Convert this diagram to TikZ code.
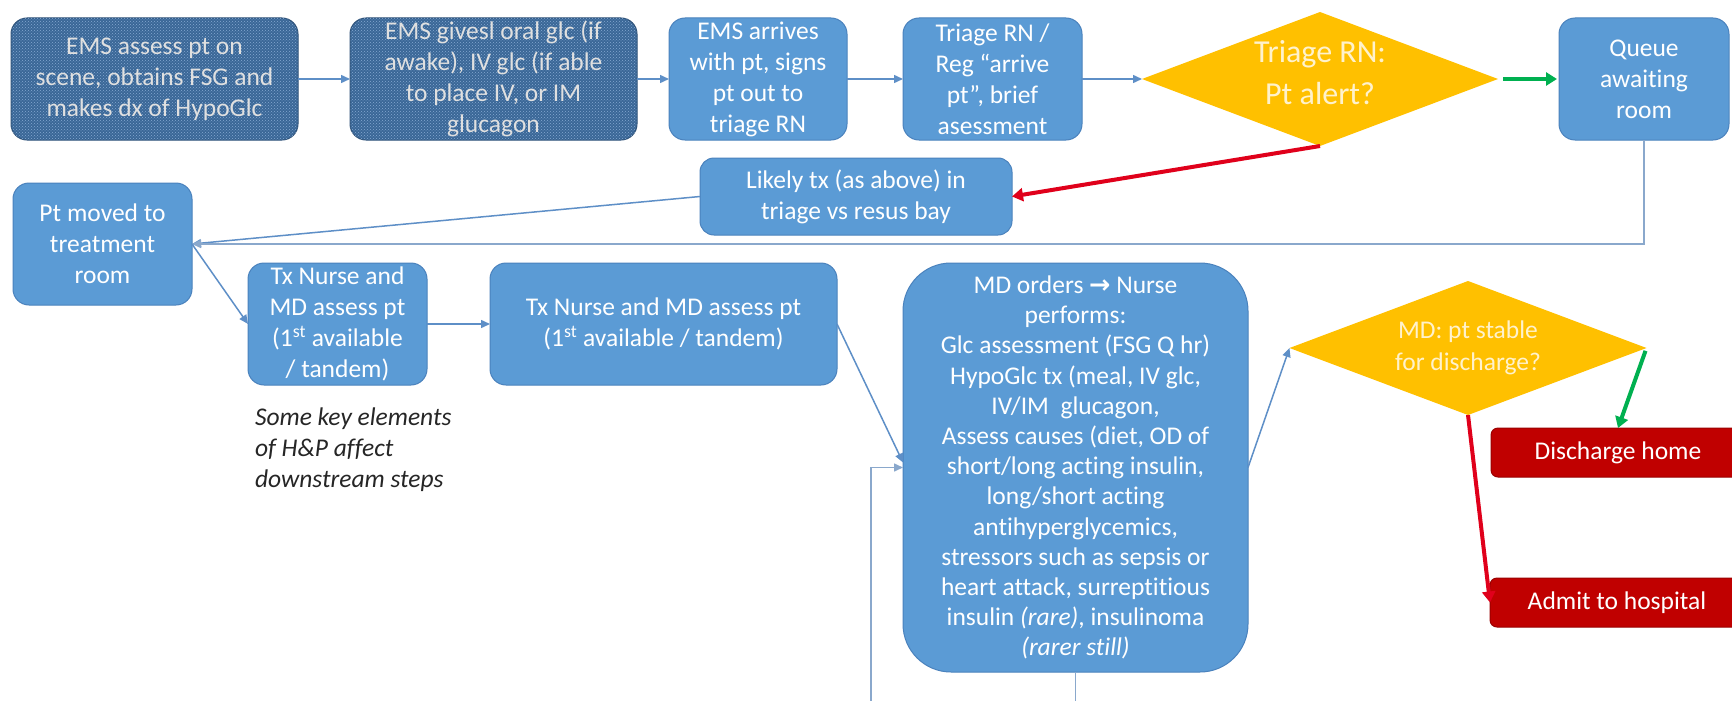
\documentclass[tikz,border=0pt]{standalone}
\usepackage{fontspec}
\setmainfont{Carlito}[Ligatures=CommonOff]
\newfontfamily\symfont{DejaVu Sans}
\usetikzlibrary{shapes.geometric, arrows.meta, patterns, calc}
\definecolor{boxblue}{HTML}{5B9BD5}
\definecolor{boxedge}{HTML}{4A82BD}
\definecolor{darkbase}{HTML}{3A6797}
\definecolor{darkdot}{HTML}{86A9D2}
\definecolor{gold}{HTML}{FFC000}
\definecolor{goldtext}{HTML}{FFF2CC}
\definecolor{boxred}{HTML}{C00000}
\definecolor{lineblue}{HTML}{5E8FC7}
\definecolor{linepale}{HTML}{8AA8CC}
\definecolor{arrgreen}{HTML}{00B050}
\definecolor{arrred}{HTML}{E0001B}
\definecolor{notegray}{HTML}{262626}
\begin{document}
\begin{tikzpicture}[x=1pt, y=-1pt,
  every node/.style={inner sep=0pt, outer sep=0pt},
  txt/.style={font=\fontsize{25.5}{31}\selectfont},
  bluebox/.style={txt, draw=boxedge, line width=1pt, fill=boxblue, rounded corners=16pt, text=white, align=center},
  darkbox/.style={bluebox, fill=darkbase, draw=darkbase!80!black, postaction={pattern=crosshatch dots, pattern color=darkdot}, text=black!12},
  redbox/.style={bluebox, fill=boxred, draw=boxred!80!black, rounded corners=7pt},
  dia/.style={diamond, fill=gold, aspect=2.66},
  diatext/.style={text=goldtext, align=center},
  conn/.style={draw=lineblue, line width=1.5pt, -{Triangle[length=9pt,width=8pt]}},
  connpale/.style={draw=linepale, line width=1.5pt, -{Triangle[length=9pt,width=8pt]}},
  connline/.style={draw=linepale, line width=1.5pt},
  yesarrow/.style={draw=arrgreen, line width=4pt, -{Triangle[length=11pt,width=13pt]}},
  noarrow/.style={draw=arrred, line width=4pt, -{Triangle[length=11pt,width=13pt]}}
]
\fill[white] (0,0) rectangle (1732,701);
\useasboundingbox (0,0) rectangle (1732,701);

% row 1
\node[darkbox, minimum width=287pt, minimum height=122pt] (b1) at (154.5,79)
  {EMS assess pt on\\scene, obtains FSG and\\makes dx of HypoGlc};
\node[darkbox, minimum width=287pt, minimum height=122pt] (b2) at (493.5,79)
  {EMS givesl oral glc (if\\awake), IV glc (if able\\to place IV, or IM\\glucagon};
\node[bluebox, minimum width=178pt, minimum height=122pt] (b3) at (758,79)
  {EMS arrives\\with pt, signs\\pt out to\\triage RN};
\node[bluebox, minimum width=179pt, minimum height=122pt] (b4) at (992.5,79)
  {Triage RN /\\Reg “arrive\\pt”, brief\\asessment};
\node[dia, minimum width=356pt, minimum height=134pt] (d1) at (1320,79) {};
\node[diatext, font=\fontsize{32}{42}\selectfont] (d1t) at (1320,73) {Triage RN:\\Pt alert?};
\node[bluebox, minimum width=170pt, minimum height=122pt] (q) at (1644,79)
  {Queue\\awaiting\\room};

% row 2
\node[bluebox, rounded corners=14pt, minimum width=312pt, minimum height=77pt] (l) at (856,196.5)
  {Likely tx (as above) in\\triage vs resus bay};
\node[bluebox, minimum width=179pt, minimum height=122pt] (p) at (102.5,244)
  {Pt moved to\\treatment\\room};

% row 3
\node[bluebox, minimum width=179pt, minimum height=122pt] (t1) at (337.5,324)
  {Tx Nurse and\\MD assess pt\\(1\textsuperscript{st} available\\/ tandem)};
\node[bluebox, minimum width=347pt, minimum height=122pt] (t2) at (663.5,324)
  {Tx Nurse and MD assess pt\\(1\textsuperscript{st} available / tandem)};
\node[txt, anchor=west, align=left, text=notegray, font=\itshape\fontsize{25.5}{31}\selectfont] (note) at (255,450)
  {Some key elements\\of H\&P affect\\downstream steps};
\node[bluebox, font=\fontsize{25.5}{30.2}\selectfont, rounded corners=48pt, minimum width=345pt, minimum height=409pt] (md) at (1075.5,467.5)
  {MD orders {\symfont\bfseries →} Nurse\\performs:\\Glc assessment (FSG Q hr)\\HypoGlc tx (meal, IV glc,\\IV/IM\ \ glucagon,\\Assess causes (diet, OD of\\short/long acting insulin,\\long/short acting\\antihyperglycemics,\\stressors such as sepsis or\\heart attack, surreptitious\\insulin \textit{(rare)}, insulinoma\\\textit{(rarer still)}};
\node[dia, minimum width=357pt, minimum height=134pt] (d2) at (1468,348) {};
\node[diatext, font=\fontsize{25.5}{32}\selectfont] (d2t) at (1468,348) {MD: pt stable\\for discharge?};
\node[redbox, minimum width=254pt, minimum height=49pt] (dh) at (1618,452.5) {Discharge home};
\node[redbox, minimum width=254pt, minimum height=49pt] (ah) at (1617,602.5) {Admit to hospital};

\coordinate (fbl) at (871,712);
\coordinate (fbr) at (1075.5,712);

% connectors
\draw[conn] (b1) -- (b2);
\draw[conn] (b2) -- (b3);
\draw[conn] (b3) -- (b4);
\draw[conn] (b4) -- (d1);
\draw[yesarrow, shorten <=5pt, shorten >=2pt] (d1.east) -- (q.west);
\draw[noarrow] (d1.south) -- (l.east);
\draw[conn] (l.west) -- (p.east);
\draw[connpale] (q.south) |- (p.east);
\draw[conn] (p.east) -- (t1.west);
\draw[conn] (t1) -- (t2);
\draw[conn] (t2.east) -- ($(md.west)+(0,-5)$);
\draw[connline] (md.south) -- (fbr);
\draw[connpale] (fbl) |- (md.west);
\draw[conn] (md.east) -- (d2.west);
\draw[yesarrow, shorten <=3pt] (d2.east) -- (dh.north);
\draw[noarrow] (d2.south) -- (ah.west);
\end{tikzpicture}
\end{document}
